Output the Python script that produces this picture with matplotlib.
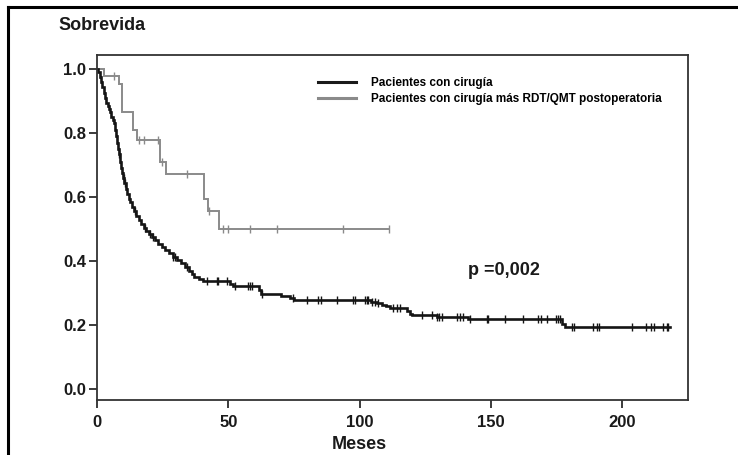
import numpy as np
import matplotlib
matplotlib.use("Agg")
import matplotlib.pyplot as plt
from matplotlib.lines import Line2D
import matplotlib.transforms as mtrans

plt.rcParams['font.family'] = ['Liberation Sans', 'DejaVu Sans']
plt.rcParams['font.weight'] = 'bold'

# ---- data: group 1 (Pacientes con cirugía) ----
surg_times = [0, 0.5, 1.0, 1.5, 2.0, 2.5, 3.0, 3.5, 4.0, 4.5, 5.0, 5.5, 6.0, 6.5, 7.0, 7.3,
              7.7, 8.1, 8.5, 8.8, 9.0, 9.5, 10.0, 10.4, 10.9, 11.3, 12.0, 12.6, 13.2, 14.0,
              14.8, 15.8, 16.8, 17.8, 18.8, 19.8, 20.8, 22.0, 23.3, 24.6, 26.0, 27.5, 29.0,
              30.5, 32.0, 33.5, 35.0, 36.0, 36.8, 39.0, 40.5, 50.5, 51.9, 61.5, 62.5, 70.0,
              73.5, 75.0, 88.0, 104.5, 106.5, 108.5, 110.0, 111.5, 118.0, 119.0, 120.0,
              129.3, 141.3, 177.0, 178.2]
surg_surv = [1.0, 0.99, 0.975, 0.96, 0.945, 0.925, 0.91, 0.895, 0.885, 0.875, 0.865, 0.85,
             0.84, 0.83, 0.81, 0.79, 0.77, 0.75, 0.735, 0.71, 0.69, 0.675, 0.66, 0.645, 0.625,
             0.61, 0.595, 0.585, 0.57, 0.555, 0.54, 0.528, 0.515, 0.503, 0.495, 0.485, 0.476,
             0.465, 0.455, 0.445, 0.435, 0.424, 0.413, 0.403, 0.393, 0.382, 0.37, 0.36, 0.35,
             0.343, 0.3375, 0.33, 0.322, 0.31, 0.296, 0.29, 0.284, 0.28, 0.278, 0.272, 0.268,
             0.263, 0.259, 0.255, 0.243, 0.235, 0.231, 0.226, 0.219, 0.205, 0.193]
surg_end = 218.0
surg_censored = [8.5, 10.3, 10.8, 14.5, 18.3, 20.2, 21.4, 29.0, 29.7, 34.1, 41.8, 45.6, 46.2,
                 49.4, 52.5, 57.6, 58.2, 58.9, 62.7, 74.7, 79.8, 84.3, 85.1, 91.2, 97.6, 98.2,
                 102.0, 102.7, 103.3, 104.6, 105.8, 107.1, 112.8, 114.1, 115.3, 123.6, 127.4,
                 129.3, 130.3, 131.2, 136.9, 138.2, 139.4, 142.0, 148.3, 149.0, 155.3, 162.3,
                 168.0, 168.9, 171.2, 174.7, 175.6, 176.2, 180.7, 181.6, 188.7, 190.2, 191.2,
                 203.5, 209.2, 210.8, 212.0, 215.3, 216.9, 217.5]

# ---- data: group 2 (Pacientes con cirugía más RDT/QMT postoperatoria) ----
post_times = [0, 2.5, 8.5, 9.5, 13.8, 15.3, 24.1, 26.2, 40.9, 42.2, 46.4]
post_surv = [1.0, 0.978, 0.952, 0.867, 0.810, 0.778, 0.710, 0.673, 0.595, 0.557, 0.5]
post_end = 111.0
post_censored = [6.3, 16.1, 17.8, 23.3, 24.7, 34.1, 42.7, 48.0, 50.0, 58.1, 68.4, 93.6, 111.0]

labels = ["Pacientes con cirugía", "Pacientes con cirugía más RDT/QMT postoperatoria"]
x_ticks = [0, 50, 100, 150, 200]
y_ticks = [0.0, 0.2, 0.4, 0.6, 0.8, 1.0]
p_text = "p =0,002"

fig = plt.figure(figsize=(7.38, 4.55), dpi=100)
ax = fig.add_axes([97/738, 55/455, (688-97)/738, (400-55)/455])


def km(ax, times, surv, end, cens, color, lw, label):
    t = np.array(list(times) + [end])
    s = np.array(list(surv) + [surv[-1]])
    ax.step(t, s, where='post', color=color, lw=lw, label=label, solid_joinstyle='miter')
    c = np.array(cens)
    idx = np.searchsorted(np.array(times), c, side='right') - 1
    sv = np.array(surv)[idx]
    ax.plot(c, sv, linestyle='none', marker='|', markersize=6, mew=1.0, color=color)


km(ax, post_times, post_surv, post_end, post_censored, '#8a8a8a', 1.4, labels[1])
km(ax, surg_times, surg_surv, surg_end, surg_censored, '#151515', 1.9, labels[0])

ax.set_xlim(0, 225)
ax.set_ylim(-0.034, 1.044)
ax.set_xticks(x_ticks)
ax.set_yticks(y_ticks)
ax.set_yticklabels([f"{v:.1f}" for v in y_ticks])
ax.tick_params(axis='both', direction='out', length=6, width=1.2, labelsize=12,
               colors='#1a1a1a', pad=2)
ax.tick_params(axis='x', pad=5)
for sp in ax.spines.values():
    sp.set_linewidth(1.3)
    sp.set_color('#333333')

ax.set_xlabel("Meses", fontsize=13, fontweight='bold', color='#1a1a1a')
ax.xaxis.set_label_coords(100/225, -0.105)

# legend
h = [Line2D([], [], color='#1a1a1a', lw=2.2), Line2D([], [], color='#8a8a8a', lw=2.2)]
ax.legend(h, labels, loc='upper left', bbox_to_anchor=((318-97)/591, 1 - (77-55)/345),
          frameon=False, fontsize=8.5, handlelength=3.2, handletextpad=1.3,
          labelspacing=0.35, borderaxespad=0, borderpad=0)

tr = mtrans.blended_transform_factory(fig.transFigure, ax.transData)
ax.text(468/738, 0.37, p_text, fontsize=13, fontweight='bold', color='#1a1a1a',
        transform=tr, ha='left', va='center')

fig.text(58/738, 1 - 25/455, "Sobrevida", fontsize=13, fontweight='bold', color='#1a1a1a',
         ha='left', va='center')

# outer frame (left and top)
fig.add_artist(Line2D([8/738, 8/738], [0, 1 - 7/455], color='black', lw=2.2,
                      transform=fig.transFigure))
fig.add_artist(Line2D([8/738, 1], [1 - 7/455, 1 - 7/455], color='black', lw=2.2,
                      transform=fig.transFigure))

fig.savefig("out.png", dpi=100)
